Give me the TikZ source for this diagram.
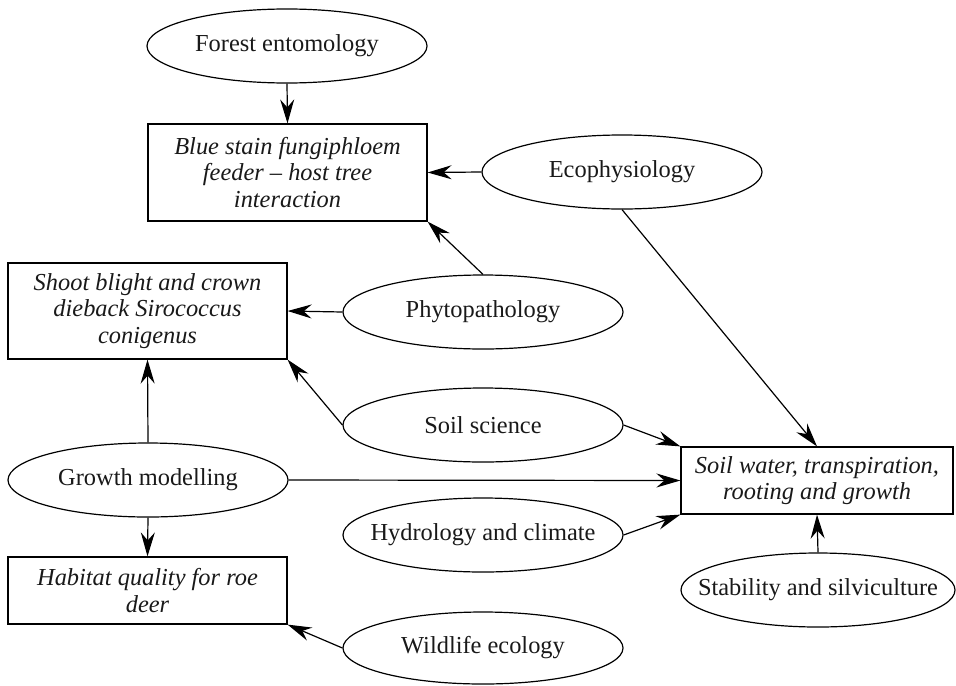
\documentclass[tikz,border=0pt]{standalone}
\usepackage{fontspec}
\setmainfont{Liberation Serif}
\usetikzlibrary{shapes.geometric,arrows.meta}
\newcommand{\ovaltext}[1]{\makebox[0pt]{#1}}
\begin{document}
\begin{tikzpicture}[x=0.5pt,y=-0.5pt,
  every node/.style={font=\fontsize{12.2}{13.3}\selectfont, text=black!90},
  oval/.style={draw, ellipse, line width=0.6pt, minimum width=140pt, minimum height=37pt, inner sep=0pt},
  topic/.style={draw, rectangle, line width=0.6pt, align=center, inner sep=0pt, font=\fontsize{12.2}{13.3}\selectfont\itshape},
  link/.style={line width=0.6pt, -{Stealth[length=12pt, width=7pt, inset=4pt]}}]
\useasboundingbox (0,0) rectangle (956,685);
\node[oval] (fe) at (287,46) {\ovaltext{Forest entomology}};
\node[topic, minimum width=139.5pt, minimum height=48.5pt] (blue) at (287.5,172.5) {Blue stain fungiphloem\\feeder -- host tree\\interaction};
\node[oval] (eco) at (622,172) {\ovaltext{Ecophysiology}};
\node[oval] (phy) at (483,312) {\ovaltext{Phytopathology}};
\node[topic, minimum width=139.5pt, minimum height=48pt] (shoot) at (147.5,311) {Shoot blight and crown\\dieback Sirococcus\\conigenus};
\node[oval] (soil) at (483,425) {\ovaltext{Soil science}};
\node[topic, minimum width=136pt, minimum height=33.5pt] (sw) at (817,480.5) {Soil water, transpiration,\\rooting and growth};
\node[oval] (growth) at (148,480) {\ovaltext{Growth modelling}};
\node[topic, minimum width=139.5pt, minimum height=33.5pt] (hab) at (147.5,590.5) {Habitat quality for roe\\deer};
\node[oval] (hyd) at (483,535) {\ovaltext{Hydrology and climate}};
\node[oval, minimum height=36pt] (wild) at (483,648) {\ovaltext{Wildlife ecology}};
\node[oval, minimum width=137pt] (stab) at (818,590) {\ovaltext{Stability and silviculture}};
\draw[link] (fe.south) -- (blue.north);
\draw[link] (eco.west) -- (blue.east);
\draw[link] (phy.north) -- (blue.south east);
\draw[link] (phy.west) -- (shoot.east);
\draw[link] (soil.west) -- (shoot.south east);
\draw[link] (soil.east) -- (sw.north west);
\draw[link] (eco.south) -- (sw.north);
\draw[link] (growth.north) -- (shoot.south);
\draw[link] (growth.east) -- (sw.west);
\draw[link] (growth.south) -- (hab.north);
\draw[link] (hyd.east) -- (sw.south west);
\draw[link] (wild.west) -- (hab.south east);
\draw[link] (stab.north) -- (sw.south);
\end{tikzpicture}
\end{document}
